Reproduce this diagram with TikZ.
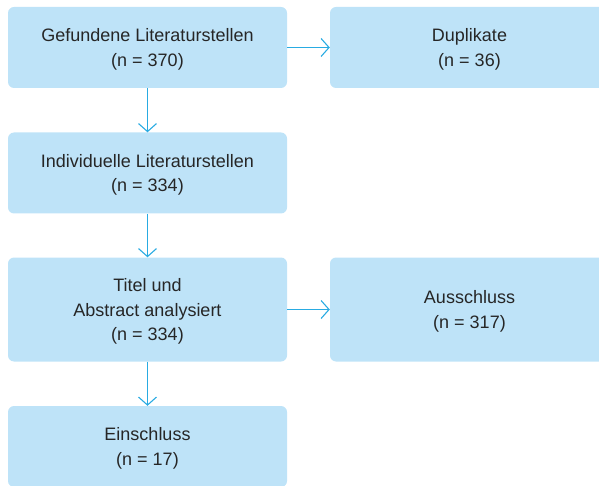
\documentclass[tikz,border=0pt]{standalone}
\usepackage{fontspec}
\setmainfont{Liberation Sans}
\usetikzlibrary{arrows.meta}
\definecolor{boxblue}{HTML}{BEE3F8}
\definecolor{lineblue}{HTML}{29ABE2}
\definecolor{txtgray}{HTML}{262626}

\begin{document}
\begin{tikzpicture}[x=1pt,y=-1pt,
    stage/.style={rectangle, rounded corners=6pt, fill=boxblue,
        minimum width=279pt, minimum height=81pt, align=center,
        text=txtgray, font=\fontsize{18}{24.5}\selectfont,
        text depth=-5pt},
    flow/.style={draw=lineblue, line width=1.1pt,
        -{Straight Barb[length=8pt,width=18pt,line width=1.1pt]}}]
    \useasboundingbox (0,0) rectangle (599,486);
            \node[stage] (found) at (147.5,47.5) {Gefundene Literaturstellen\\(n = 370)};
            \node[stage] (dup) at (469.5,47.5) {Duplikate\\(n = 36)};
            \node[stage] (indiv) at (147.5,173) {Individuelle Literaturstellen\\(n = 334)};
            \node[stage, minimum height=104pt] (screen) at (147.5,309.5) {Titel und\\Abstract analysiert\\(n = 334)};
            \node[stage, minimum height=104pt] (excl) at (469.5,309.5) {Ausschluss\\(n = 317)};
            \node[stage] (incl) at (147.5,446.5) {Einschluss\\(n = 17)};
            \draw[flow] (found) -- (dup);
            \draw[flow] (found) -- (indiv);
            \draw[flow] (indiv) -- (screen);
            \draw[flow] (screen) -- (excl);
            \draw[flow] (screen) -- (incl);
        \end{tikzpicture}
\end{document}
